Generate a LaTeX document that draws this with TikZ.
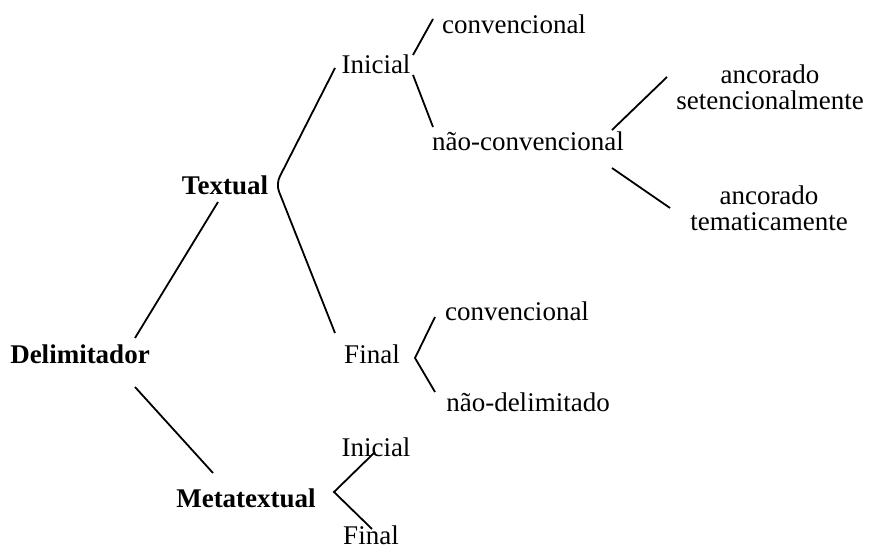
\documentclass[tikz,border=0pt]{standalone}
\usepackage{fontspec}
\setmainfont{Liberation Serif}
\usetikzlibrary{calc}
\begin{document}
\begin{tikzpicture}[x=0.5pt, y=-0.5pt,
	every node/.style={inner sep=0pt, font=\fontsize{13.5}{13}\selectfont},
	head/.style={font=\fontsize{13.5}{13}\selectfont\bfseries},
	twoline/.style={align=center, font=\fontsize{13.5}{13}\selectfont},
	branch/.style={line width=0.9pt}]
\useasboundingbox (0,0) rectangle (869,550);

\node[head] (del) at (80,354) {Delimitador};
\node[head] (txt) at (225,185) {Textual};
\node[head] (met) at (246,498) {Metatextual};

\node (ini1) at (376,64) {Inicial};
\node (fin1) at (372,354) {Final};
\node (ini2) at (376,447) {Inicial};
\node (fin2) at (371,535) {Final};

\node (conv1) at (514,24) {convencional};
\node (naoconv) at (528,141) {não-convencional};
\node (conv2) at (517,311) {convencional};
\node (naodel) at (528,402) {não-delimitado};

\node[twoline] (ancset) at (770,87) {ancorado\\setencionalmente};
\node[twoline] (anctem) at (769,208) {ancorado\\tematicamente};

% Delimitador
\draw[branch] ($(del)+(55,-16)$) -- ($(txt)+(-7,17)$);
\draw[branch] ($(del)+(55,33)$) -- ($(met)+(-33,-25)$);

% Textual
\draw[branch, rounded corners=4pt] ($(ini1)+(-41,4)$) -- ($(txt)+(51,-1)$) -- ($(fin1)+(-37,-21)$);
\draw[branch] ($(ini1)+(37,-9)$) -- ($(conv1)+(-81,-5)$);
\draw[branch] ($(ini1)+(37,11)$) -- ($(naoconv)+(-95,-14)$);
\draw[branch] ($(naoconv)+(84,-11)$) -- ($(ancset)+(-103,-10)$);
\draw[branch] ($(naoconv)+(84,27)$) -- ($(anctem)+(-99,0)$);
\draw[branch] ($(conv2)+(-82,6)$) -- ($(fin1)+(43,4)$) -- ($(naodel)+(-93,-10)$);

% Metatextual
\draw[branch] ($(ini2)+(-1,5)$) -- ($(met)+(88,-6)$) -- ($(fin2)+(1,-6)$);
\end{tikzpicture}
\end{document}
